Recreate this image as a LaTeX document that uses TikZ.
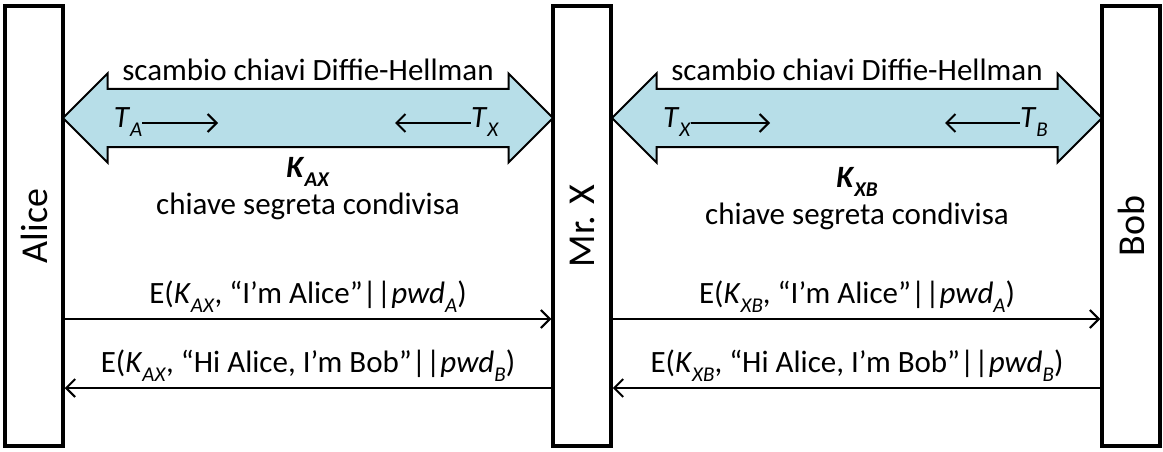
\documentclass[tikz,border=0pt]{standalone}
\usepackage{fontspec}
\setmainfont{Carlito}
\usetikzlibrary{shapes.arrows,positioning,arrows.meta}
\definecolor{dhblue}{RGB}{183,222,232}
\newcommand{\lowsub}[1]{\raisebox{-0.28em}{\fontsize{21}{21}\selectfont\textit{#1}}}
\newcommand{\boldsub}[1]{\raisebox{-0.28em}{\fontsize{21}{21}\selectfont\textbf{\textit{#1}}}}

\begin{document}
\begin{tikzpicture}[x=1pt, y=-1pt,
    actor/.style={rectangle, draw, line width=3.5pt, minimum width=58pt, minimum height=440pt, inner sep=0pt, font=\fontsize{38}{40}\selectfont},
    dhbar/.style={double arrow, draw, line width=2pt, fill=dhblue, inner xsep=0pt, inner ysep=28pt, double arrow head extend=15.5pt, minimum height=490pt},
    lbl/.style={inner sep=0pt, font=\fontsize{31}{33}\selectfont},
    msg/.style={-{Straight Barb[length=9pt, width=18pt]}, line width=2pt},
    tick/.style={-{Straight Barb[length=9pt, width=18pt]}, line width=2pt}
]
\useasboundingbox (0,0) rectangle (1163,452);

% Actors
\node[actor] (alice) at (34,226) {\rotatebox{90}{Alice}};
\node[actor] (mrx) at (582,226) {\rotatebox{90}{Mr. X}};
\node[actor] (bob) at (1131,226) {\rotatebox{90}{Bob}};

% Diffie-Hellman exchanges
\node[dhbar] (dhax) at (308,118) {};
\node[dhbar] (dhxb) at (857,118) {};

\node[lbl] (dhaxlbl) at (308,70) {scambio chiavi Diffie-Hellman};
\node[lbl] (dhxblbl) at (857,70) {scambio chiavi Diffie-Hellman};

\node[lbl] (ta) at (128,122) {\textit{T}\lowsub{A}};
\node[lbl] (tx1) at (485,122) {\textit{T}\lowsub{X}};
\node[lbl] (tx2) at (677,122) {\textit{T}\lowsub{X}};
\node[lbl] (tb) at (1034,122) {\textit{T}\lowsub{B}};
\coordinate (ta end) at (218,123);
\coordinate (tx1 end) at (395,123);
\coordinate (tx2 end) at (770,123);
\coordinate (tb end) at (945,123);
\draw[tick] (ta.east) ++(0,1) -- (ta end);
\draw[tick] (tx1.west) ++(0,1) -- (tx1 end);
\draw[tick] (tx2.east) ++(0,1) -- (tx2 end);
\draw[tick] (tb.west) ++(0,1) -- (tb end);

\node[lbl] (kax) at (308,172) {\textbf{\textit{K}}\boldsub{AX}};
\node[lbl, below=6pt of kax] (kaxtxt) {chiave segreta condivisa};
\node[lbl] (kxb) at (857,182) {\textbf{\textit{K}}\boldsub{XB}};
\node[lbl, below=6pt of kxb] (kxbtxt) {chiave segreta condivisa};

% Messages
\coordinate (m1) at (0,319);
\coordinate (m2) at (0,388);
\draw[msg] (alice.east |- m1) -- (mrx.west |- m1);
\draw[msg] (mrx.west |- m2) -- (alice.east |- m2);
\draw[msg] (mrx.east |- m1) -- (bob.west |- m1);
\draw[msg] (bob.west |- m2) -- (mrx.east |- m2);

\node[lbl] (m1ax) at (308,297) {E(\textit{K}\lowsub{AX}, “I’m Alice”||\textit{pwd}\lowsub{A})};
\node[lbl] (m2ax) at (308,366) {E(\textit{K}\lowsub{AX}, “Hi Alice, I’m Bob”||\textit{pwd}\lowsub{B})};
\node[lbl] (m1xb) at (857,297) {E(\textit{K}\lowsub{XB}, “I’m Alice”||\textit{pwd}\lowsub{A})};
\node[lbl] (m2xb) at (857,366) {E(\textit{K}\lowsub{XB}, “Hi Alice, I’m Bob”||\textit{pwd}\lowsub{B})};
\end{tikzpicture}
\end{document}
